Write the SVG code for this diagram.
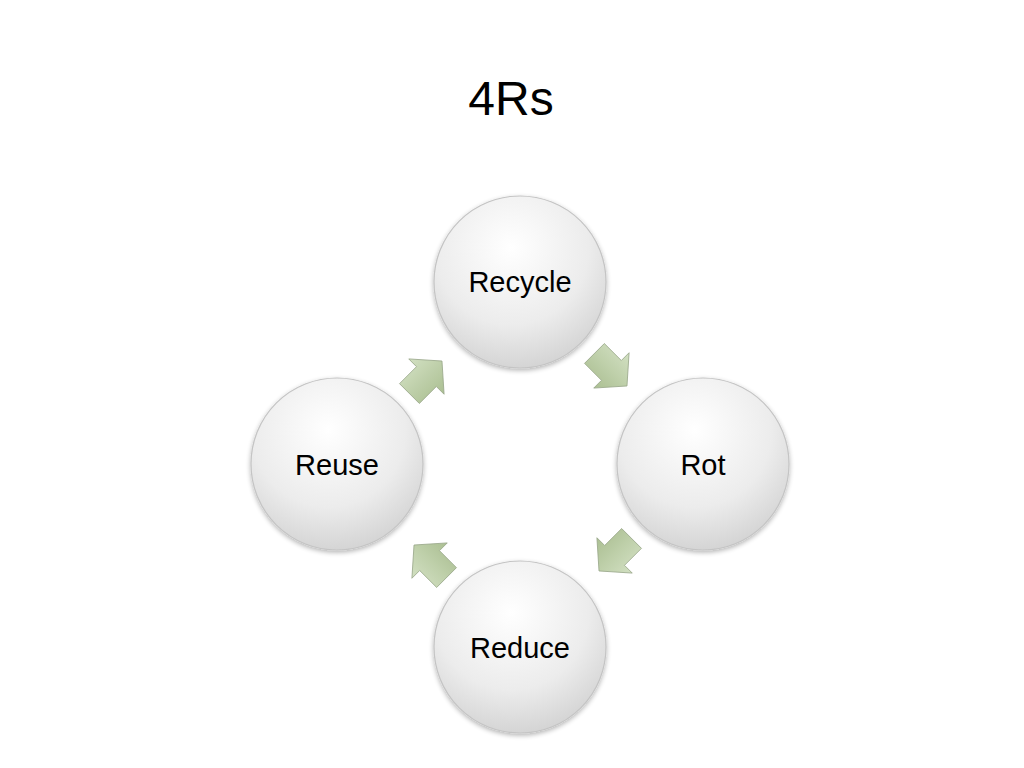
<svg xmlns="http://www.w3.org/2000/svg" width="1024" height="768" viewBox="0 0 1024 768">
<style>
.title{font-family:"Liberation Sans",Arial,sans-serif;font-size:48px;fill:#000;text-anchor:middle}
.lbl{font-family:"Liberation Sans",Arial,sans-serif;font-size:29px;fill:#000;text-anchor:middle}
.ball{fill:url(#gBall);stroke:#c4c4c4;stroke-width:1.2;filter:url(#sh)}
.arr{fill:url(#gArr);stroke:#9aa88a;stroke-width:0.8}
</style>
<defs>
<radialGradient id="gBall" cx="0.45" cy="0.3" r="0.75">
<stop offset="0" stop-color="#ffffff"/>
<stop offset="0.6" stop-color="#ececec"/>
<stop offset="1" stop-color="#d0d0d0"/>
</radialGradient>
<linearGradient id="gArr" x1="0" y1="0" x2="0" y2="1">
<stop offset="0" stop-color="#d2e0c2"/>
<stop offset="1" stop-color="#abbf92"/>
</linearGradient>
<filter id="sh" x="-20%" y="-20%" width="140%" height="140%">
<feGaussianBlur in="SourceAlpha" stdDeviation="2.5"/>
<feOffset dx="0" dy="2" result="b"/>
<feComponentTransfer><feFuncA type="linear" slope="0.3"/></feComponentTransfer>
<feMerge><feMergeNode/><feMergeNode in="SourceGraphic"/></feMerge>
</filter>
<path id="ar" d="M-22,-14 L2,-14 L2,-25 L24,0 L2,25 L2,14 L-22,14 Z"/>
</defs>
<rect width="1024" height="768" fill="#ffffff"/>
<text class="title" x="511" y="115">4Rs</text>
<g id="connectors">
<use href="#ar" class="arr" transform="translate(610,369) rotate(45)"/>
<use href="#ar" class="arr" transform="translate(616,554) rotate(135)"/>
<use href="#ar" class="arr" transform="translate(431,562) rotate(-135)"/>
<use href="#ar" class="arr" transform="translate(425,378) rotate(-45)"/>
</g>
<g id="recycle"><circle class="ball" cx="520" cy="282" r="86"/><text class="lbl" x="520" y="292">Recycle</text></g>
<g id="rot"><circle class="ball" cx="703" cy="464" r="86"/><text class="lbl" x="703" y="475">Rot</text></g>
<g id="reduce"><circle class="ball" cx="520" cy="647" r="86"/><text class="lbl" x="520" y="658">Reduce</text></g>
<g id="reuse"><circle class="ball" cx="337" cy="464" r="86"/><text class="lbl" x="337" y="475">Reuse</text></g>
</svg>
